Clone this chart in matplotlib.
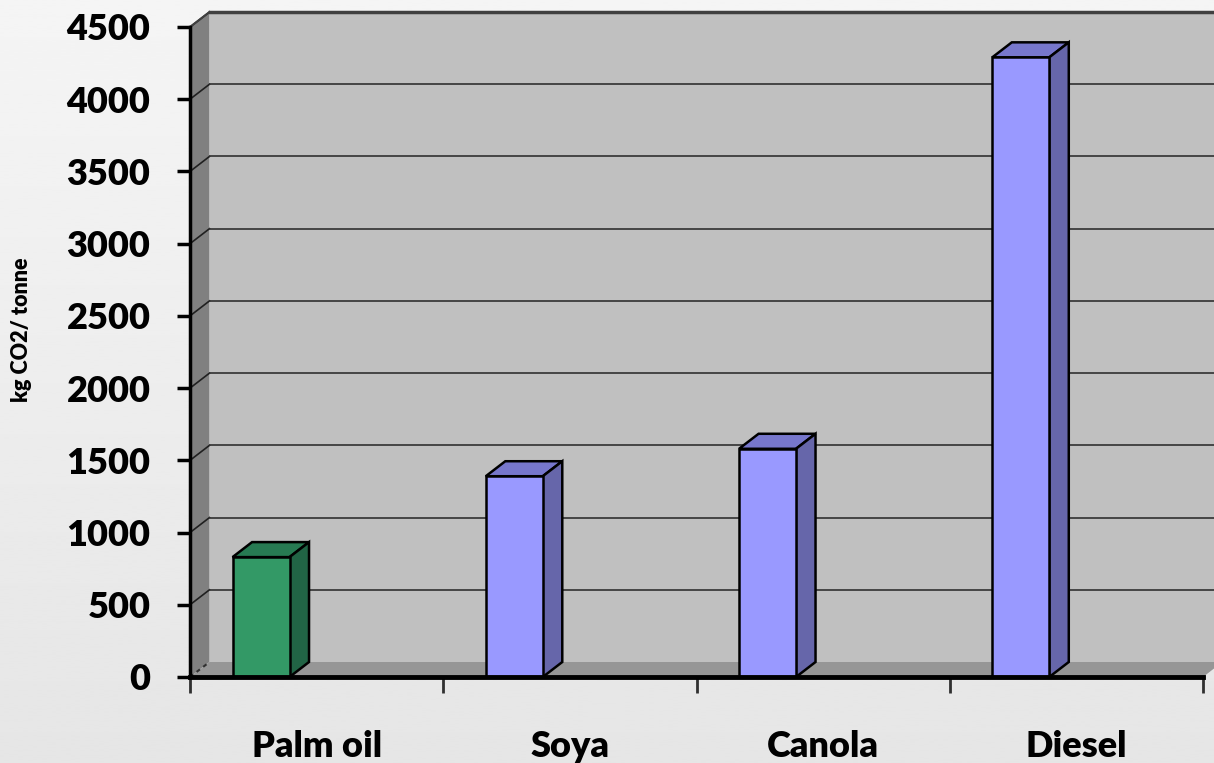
import numpy as np
import matplotlib.pyplot as plt
from matplotlib.patches import Polygon

# Emissionen je Kraftstoff (kg CO2 pro Tonne)
fuels = ['Palm oil', 'Soya', 'Canola', 'Diesel']
emissions = [830, 1390, 1580, 4290]
face_cols = ['#339966', '#9999FF', '#9999FF', '#9999FF']
top_cols = ['#277A52', '#7777CC', '#7777CC', '#7777CC']
side_cols = ['#216445', '#6666AA', '#6666AA', '#6666AA']
yticks = [0, 500, 1000, 1500, 2000, 2500, 3000, 3500, 4000, 4500]

plt.rcParams['font.family'] = ['Lato', 'DejaVu Sans']

fig = plt.figure(figsize=(12.14, 7.63), dpi=100)

# Hintergrund mit leichtem Verlauf
bg = fig.add_axes([0, 0, 1, 1], zorder=-5)
grad = np.linspace(0.96, 0.90, 256).reshape(-1, 1)
bg.imshow(grad, aspect='auto', cmap='gray', vmin=0, vmax=1, extent=[0, 1, 0, 1])
bg.axis('off')

W, H = 1214, 763
ax = fig.add_axes([190 / W, (H - 677) / H, 1013 / W, 650 / H])
ax.patch.set_visible(False)
ax.set_xlim(0, 4)
ax.set_ylim(0, 4500)

# Tiefenversatz für den 3D-Look (in Datenkoordinaten)
dx = 19.5 / 253.25
dy = 15 / (650 / 4500)
top = yticks[-1]

back = Polygon([(dx, dy), (4 + dx, dy), (4 + dx, top + dy), (dx, top + dy)],
               closed=True, fc='#C0C0C0', ec='none', clip_on=False, zorder=1)
side = Polygon([(0, 0), (0, top), (dx, top + dy), (dx, dy)],
               closed=True, fc='#808080', ec='none', clip_on=False, zorder=1)
floor = Polygon([(0, 0), (4, 0), (4 + dx, dy), (dx, dy)],
                closed=True, fc='#969696', ec='none', clip_on=False, zorder=2)
for p in (back, side, floor):
    ax.add_patch(p)

# Gitterlinien auf Rück- und Seitenwand
for y in yticks[1:]:
    ax.plot([0, dx], [y, y + dy], color='#202020', lw=1.2, clip_on=False, zorder=1.5)
    ax.plot([dx, 4 + dx], [y + dy, y + dy], color='#303030', lw=1.2, clip_on=False, zorder=1.5)
ax.plot([dx, 4 + dx], [top + dy, top + dy], color='#404040', lw=2.5, clip_on=False, zorder=1.6)
ax.plot([0, dx], [top, top + dy], color='#404040', lw=1.5, clip_on=False, zorder=1.6)
ax.plot([0, dx], [0, dy], color='#303030', lw=1.5, ls=(0, (2, 2)), clip_on=False, zorder=2.5)

# Säulen mit Deckel und Seitenfläche
offset, width = 0.168, 0.225
xs = np.arange(len(fuels)) + offset
ax.bar(xs, emissions, width=width, align='edge', color=face_cols,
       edgecolor='black', linewidth=1.8, zorder=4)
for x, v, tc, sc in zip(xs, emissions, top_cols, side_cols):
    ax.add_patch(Polygon([(x, v), (x + width, v), (x + width + dx, v + dy), (x + dx, v + dy)],
                         closed=True, fc=tc, ec='black', lw=1.8, zorder=3.5))
    ax.add_patch(Polygon([(x + width, 0), (x + width + dx, dy), (x + width + dx, v + dy), (x + width, v)],
                         closed=True, fc=sc, ec='black', lw=1.8, zorder=3.5))

# Achsen
for s in ('top', 'right'):
    ax.spines[s].set_visible(False)
ax.spines['left'].set_linewidth(2.5)
ax.spines['bottom'].set_linewidth(3.5)
ax.spines['left'].set_zorder(5)
ax.spines['bottom'].set_zorder(5)

ax.set_yticks(yticks)
ax.set_yticklabels([str(t) for t in yticks], fontsize=26, fontweight='heavy')
ax.tick_params(axis='y', direction='out', length=9.5, width=2.5, pad=19)

ax.set_xticks(np.arange(5))
ax.set_xticklabels([])
ax.set_xticks(np.arange(len(fuels)) + 0.5, minor=True)
ax.set_xticklabels(fuels, minor=True, fontsize=26, fontweight='heavy')
ax.tick_params(axis='x', which='major', direction='out', length=11.5, width=2, color='#303030')
ax.tick_params(axis='x', which='minor', length=0, pad=38)

ax.set_ylabel('kg CO2/ tonne', fontsize=15.5, fontweight='heavy')
ax.yaxis.set_label_coords(-0.156, 0.534)

fig.savefig('out.png', dpi=100)
